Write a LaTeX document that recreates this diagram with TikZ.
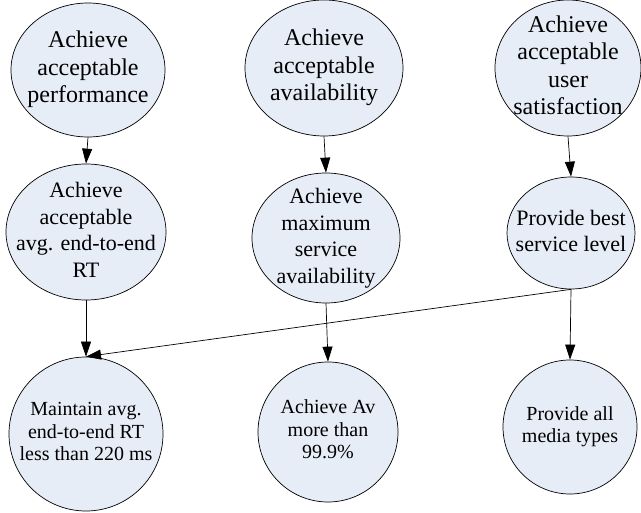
\documentclass[tikz,border=0pt]{standalone}
\usepackage{fontspec}
\setmainfont{Liberation Serif}
\usetikzlibrary{shapes.geometric,arrows.meta}
\definecolor{goalfill}{RGB}{231,237,247}
\newcommand{\goallines}[1]{\smash{\raisebox{-0.25em}{\makebox[0pt]{\begin{tabular}{@{}c@{}}#1\end{tabular}}}}}
\begin{document}
\begin{tikzpicture}[x=1pt,y=-1pt,
    goal/.style={ellipse, draw, fill=goalfill, inner sep=0pt, line width=0.7pt},
    top/.style={font=\fontsize{24}{27.5}\selectfont},
    mid/.style={font=\fontsize{22}{26.5}\selectfont},
    low/.style={font=\fontsize{20}{22.5}\selectfont},
    >={Triangle[length=15pt,width=10pt]}, line width=0.7pt]
    \useasboundingbox (0,0) rectangle (641,513);
    \node[goal,top,minimum width=154,minimum height=134] at (88,70) (perf) {\goallines{Achieve\\acceptable\\performance}};
    \node[goal,top,minimum width=158,minimum height=136] at (324,68) (avail) {\goallines{Achieve\\acceptable\\availability}};
    \node[goal,top,minimum width=146,minimum height=136] at (568,68) (satis) {\goallines{Achieve\\acceptable\\user\\satisfaction}};
    \node[goal,mid,minimum width=160,minimum height=136] at (86,232) (avgrt) {\goallines{Achieve\\acceptable\\avg. end-to-end\\RT}};
    \node[goal,mid,minimum width=148,minimum height=130] at (326,238) (maxav) {\goallines{Achieve\\maximum\\service\\availability}};
    \node[goal,mid,minimum width=128,minimum height=112] at (571,233) (best) {\goallines{Provide best\\service level}};
    \node[goal,low,minimum width=154,minimum height=154] at (86,434) (rtlimit) {\goallines{Maintain avg.\\end-to-end RT\\less than 220 ms}};
    \node[goal,low,minimum width=140,minimum height=140] at (328,432) (avlimit) {\goallines{Achieve Av\\more than\\99.9\%}};
    \node[goal,low,minimum width=134,minimum height=134] at (570,427) (media) {\goallines{Provide all\\media types}};
    \draw[<-] (avgrt.north) -- (perf.south);
    \draw[<-] (maxav.north) -- (avail.south);
    \draw[<-] (best.north) -- (satis.south);
    \draw[<-] (rtlimit.north) -- (avgrt.south);
    \draw[<-] (avlimit.north) -- (maxav.south);
    \draw[<-] (media.north) -- (best.south);
    \draw[<-] (rtlimit.north) -- (best.south);
  \end{tikzpicture}
\end{document}
